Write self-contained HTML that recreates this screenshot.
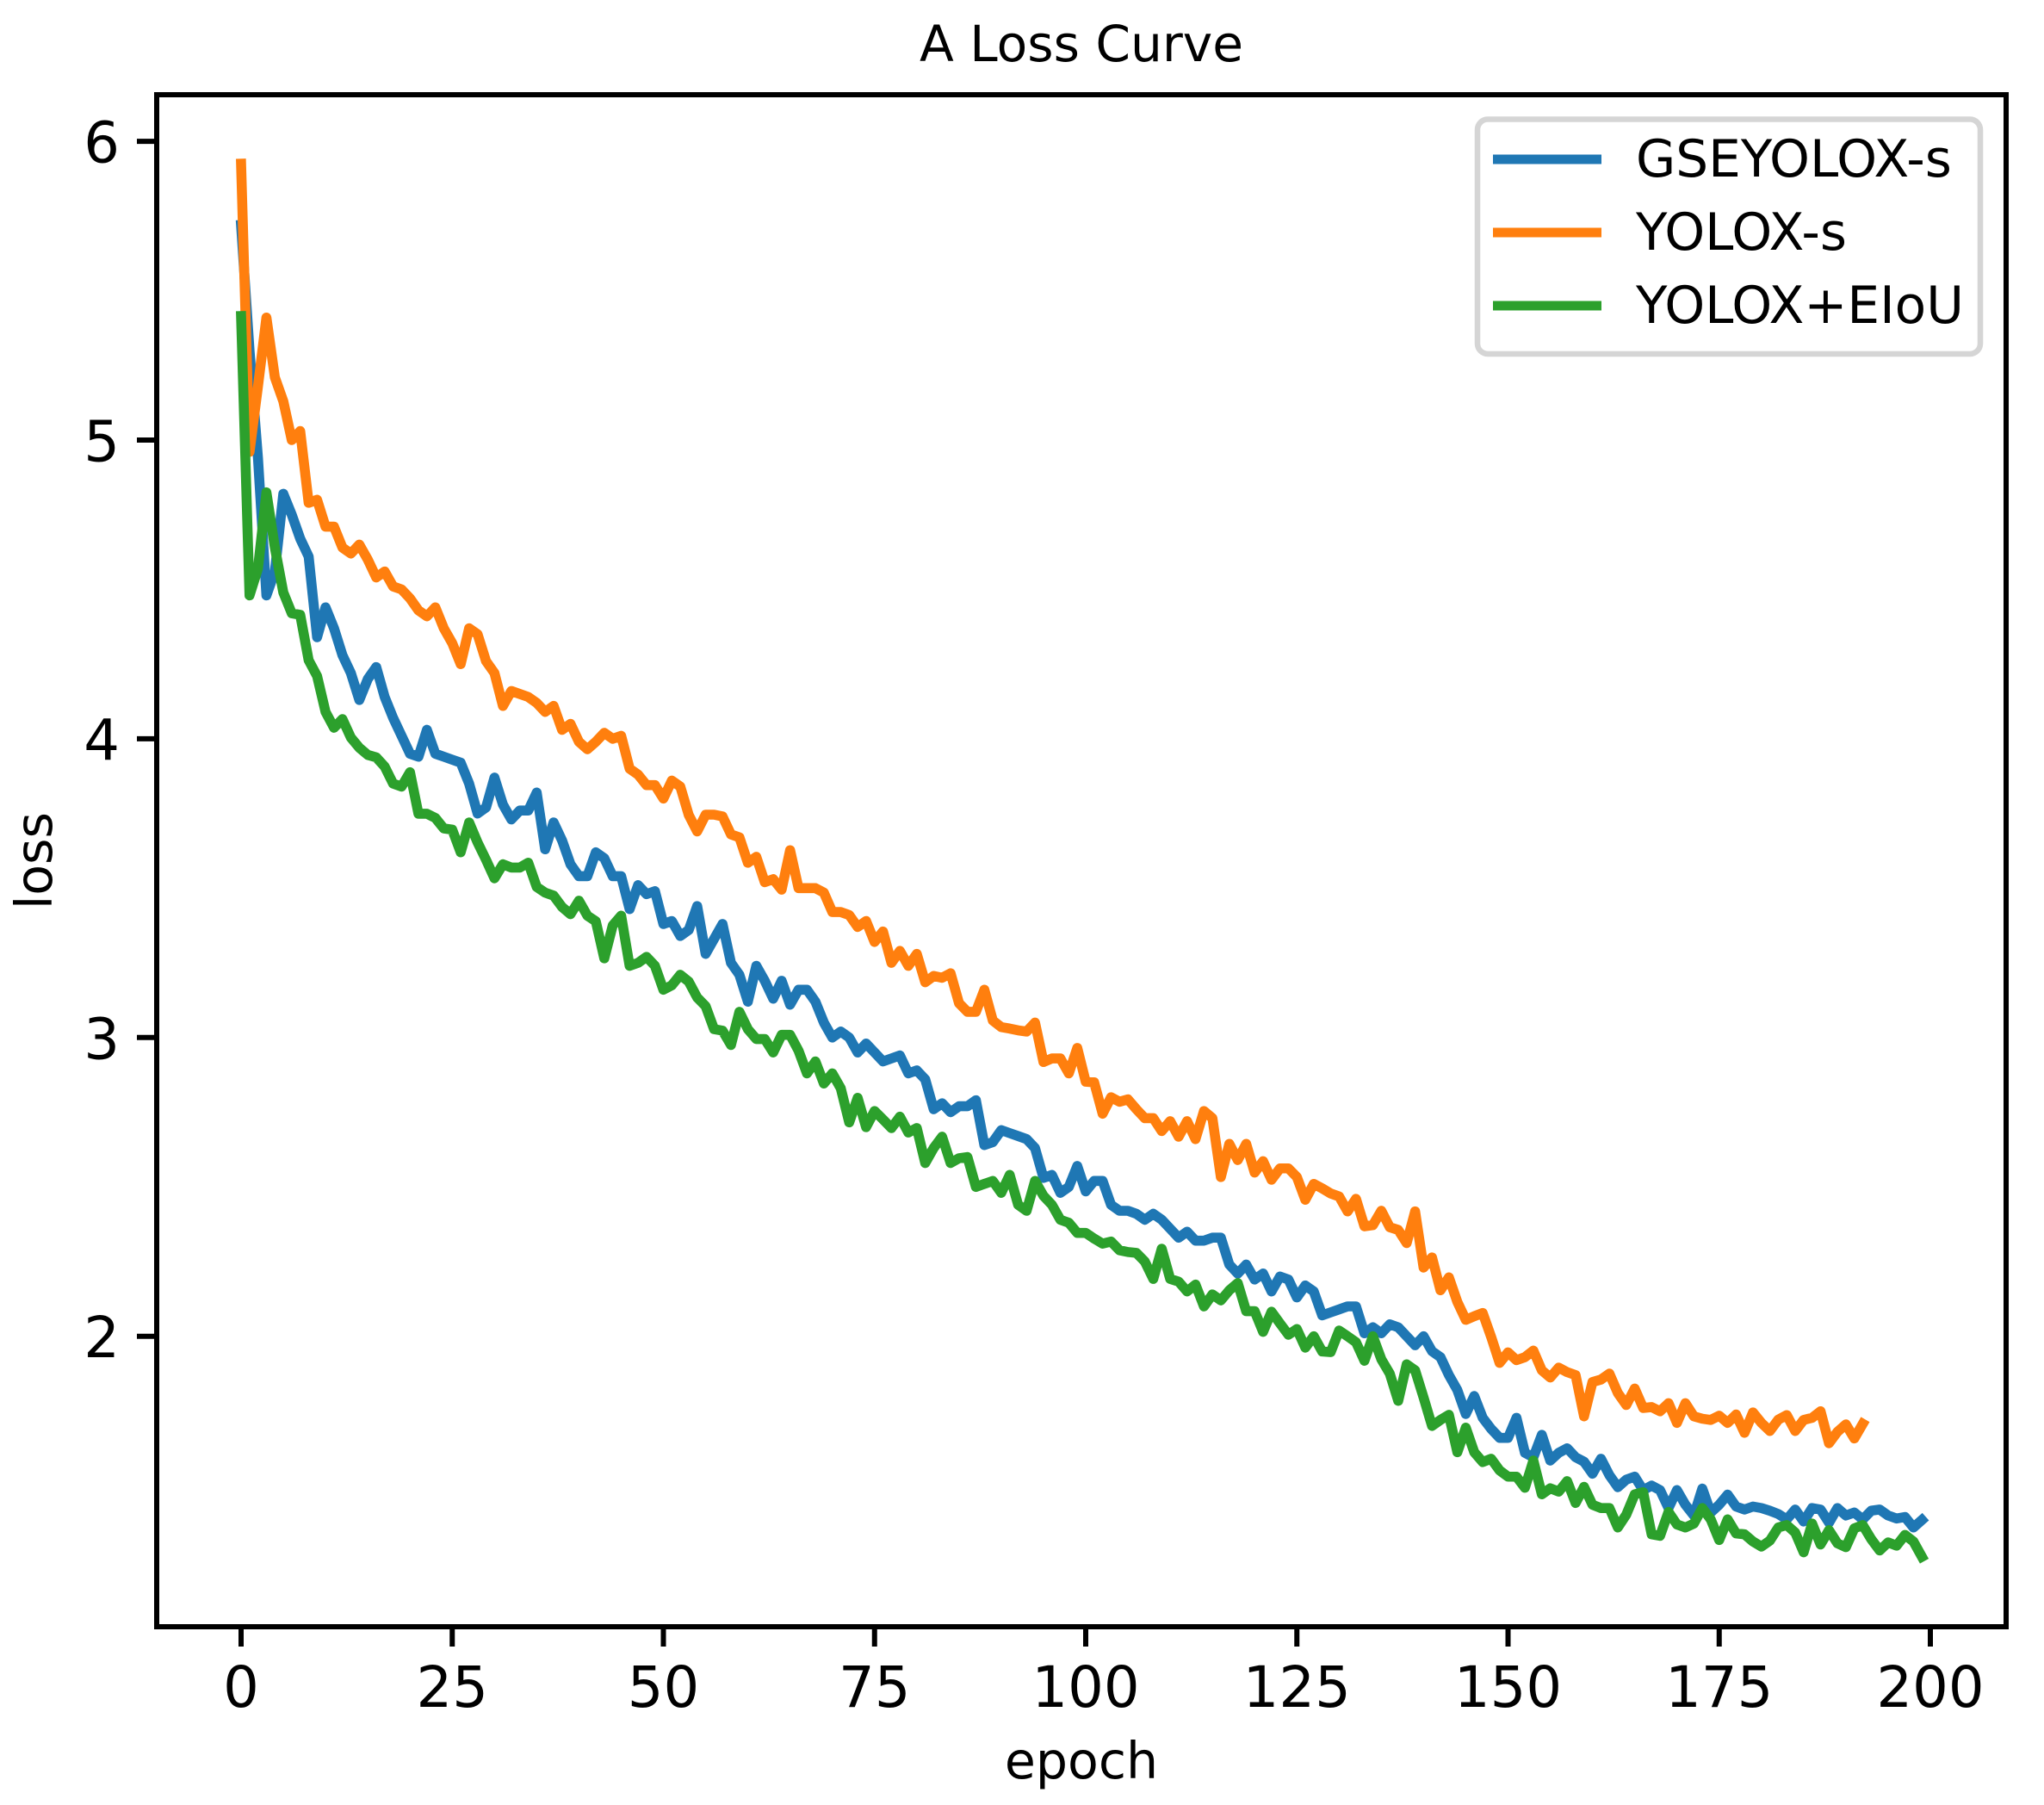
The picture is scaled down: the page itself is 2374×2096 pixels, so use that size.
<!DOCTYPE html>
<html lang="en">
<head>
<meta charset="utf-8">
<title>A Loss Curve</title>
<style>
html,body{margin:0;padding:0;background:#fff;}
body{width:2374px;height:2096px;overflow:hidden;}
svg{display:block;}
text{font-family:"DejaVu Sans","Liberation Sans",sans-serif;fill:#000;}
</style>
</head>
<body>
<svg id="chart" xmlns="http://www.w3.org/2000/svg" width="2374" height="2096" viewBox="0 0 2374 2096">
<rect x="0" y="0" width="2374" height="2096" fill="#ffffff"/>
<text x="1256" y="71" font-size="58.2" text-anchor="middle">A Loss Curve</text>
<text x="1256" y="2065" font-size="58.5" text-anchor="middle">epoch</text>
<text x="0" y="0" font-size="58.5" text-anchor="middle" transform="translate(60 999.5) rotate(-90)">loss</text>
<g id="series-layer"></g>
<g id="axes-layer"></g>
<g id="legend">
<rect x="1716" y="138.5" width="584" height="272.5" rx="12" ry="12" fill="#ffffff" stroke="#d5d5d5" stroke-width="6.5"/>
<line x1="1734" y1="185" x2="1860" y2="185" stroke="#1f77b4" stroke-width="11"/>
<text x="1900" y="205" font-size="59.7">GSEYOLOX-s</text>
<line x1="1734" y1="270" x2="1860" y2="270" stroke="#ff7f0e" stroke-width="11"/>
<text x="1900" y="290" font-size="59.7">YOLOX-s</text>
<line x1="1734" y1="355" x2="1860" y2="355" stroke="#2ca02c" stroke-width="11"/>
<text x="1900" y="375" font-size="59.7">YOLOX+EIoU</text>
</g>
</svg>
<script>
const xTicks = [0, 25, 50, 75, 100, 125, 150, 175, 200];
const yTicks = [2, 3, 4, 5, 6];

const gseyoloxLoss = [
5.72,5.30,4.94,4.48,4.56,4.82,4.75,4.67,4.61,4.34,
4.44,4.37,4.28,4.22,4.13,4.20,4.24,4.14,4.07,4.01,
3.95,3.94,4.03,3.95,3.94,3.93,3.92,3.85,3.75,3.77,
3.87,3.78,3.73,3.76,3.76,3.82,3.63,3.72,3.66,3.58,
3.54,3.54,3.62,3.60,3.54,3.54,3.43,3.51,3.48,3.49,
3.38,3.39,3.34,3.36,3.44,3.28,3.33,3.38,3.25,3.21,
3.12,3.24,3.19,3.13,3.19,3.11,3.16,3.16,3.12,3.05,
3.00,3.02,3.00,2.95,2.98,2.95,2.92,2.93,2.94,2.88,
2.89,2.86,2.76,2.78,2.75,2.77,2.77,2.79,2.64,2.65,
2.69,2.68,2.67,2.66,2.63,2.53,2.54,2.48,2.50,2.57,
2.485,2.52,2.52,2.44,2.42,2.42,2.41,2.39,2.41,2.39,
2.36,2.33,2.35,2.32,2.32,2.33,2.33,2.24,2.21,2.24,
2.19,2.21,2.15,2.20,2.19,2.13,2.17,2.15,2.07,2.08,
2.09,2.10,2.10,2.01,2.03,2.01,2.04,2.03,2.00,1.97,
2.00,1.95,1.93,1.87,1.82,1.74,1.80,1.727,1.69,1.66,
1.66,1.727,1.61,1.595,1.67,1.584,1.61,1.625,1.595,1.58,
1.54,1.59,1.535,1.495,1.52,1.53,1.485,1.50,1.485,1.425,
1.485,1.436,1.40,1.49,1.41,1.436,1.47,1.43,1.42,1.43,
1.425,1.416,1.405,1.387,1.42,1.38,1.425,1.42,1.376,1.425,
1.40,1.41,1.387,1.416,1.42,1.40,1.39,1.395,1.36,1.385
];

const yoloxLoss = [
5.925,4.96,5.18,5.41,5.21,5.13,5.00,5.03,4.79,4.80,
4.71,4.71,4.64,4.62,4.65,4.60,4.54,4.56,4.51,4.50,
4.47,4.43,4.41,4.44,4.37,4.32,4.25,4.37,4.35,4.26,
4.22,4.11,4.16,4.15,4.14,4.12,4.09,4.11,4.03,4.05,
3.99,3.965,3.99,4.02,4.00,4.01,3.90,3.88,3.845,3.845,
3.80,3.86,3.84,3.745,3.69,3.746,3.746,3.74,3.68,3.67,
3.585,3.605,3.52,3.53,3.495,3.627,3.50,3.50,3.50,3.485,
3.42,3.42,3.41,3.37,3.39,3.32,3.355,3.25,3.29,3.24,
3.28,3.185,3.206,3.20,3.215,3.115,3.086,3.086,3.16,3.057,
3.035,3.03,3.024,3.02,3.05,2.918,2.93,2.93,2.88,2.965,
2.852,2.85,2.745,2.80,2.785,2.793,2.76,2.73,2.73,2.687,
2.72,2.668,2.72,2.66,2.754,2.73,2.533,2.644,2.59,2.644,
2.548,2.586,2.524,2.562,2.562,2.533,2.457,2.51,2.495,2.478,
2.468,2.418,2.46,2.368,2.372,2.42,2.365,2.356,2.312,2.418,
2.23,2.264,2.154,2.197,2.115,2.055,2.067,2.078,1.998,1.911,
1.946,1.92,1.93,1.952,1.886,1.862,1.895,1.88,1.87,1.732,
1.847,1.855,1.875,1.81,1.77,1.825,1.76,1.763,1.749,1.776,
1.71,1.776,1.732,1.724,1.72,1.734,1.71,1.738,1.677,1.745,
1.71,1.683,1.721,1.736,1.683,1.72,1.727,1.749,1.642,1.68,
1.705,1.658,1.707
];

const eiouLoss = [
5.415,4.48,4.57,4.825,4.64,4.49,4.42,4.415,4.263,4.21,
4.09,4.037,4.066,4.004,3.97,3.946,3.938,3.907,3.85,3.84,
3.888,3.749,3.749,3.735,3.70,3.696,3.62,3.72,3.653,3.595,
3.533,3.58,3.569,3.569,3.585,3.504,3.485,3.475,3.437,3.413,
3.458,3.408,3.389,3.265,3.375,3.408,3.24,3.25,3.27,3.24,
3.16,3.175,3.21,3.187,3.134,3.105,3.028,3.023,2.975,3.086,
3.028,2.995,2.995,2.95,3.009,3.009,2.956,2.88,2.92,2.846,
2.88,2.83,2.716,2.798,2.70,2.754,2.726,2.697,2.735,2.682,
2.697,2.58,2.63,2.668,2.58,2.596,2.60,2.50,2.51,2.52,
2.48,2.54,2.44,2.42,2.52,2.47,2.44,2.39,2.38,2.346,
2.346,2.327,2.31,2.317,2.288,2.282,2.279,2.25,2.192,2.293,
2.192,2.183,2.15,2.173,2.10,2.14,2.12,2.154,2.178,2.084,
2.084,2.015,2.082,2.043,2.005,2.024,1.962,2.00,1.949,1.947,
2.019,2.00,1.98,1.918,2.00,1.923,1.875,1.784,1.906,1.886,
1.795,1.70,1.72,1.737,1.612,1.694,1.612,1.579,1.59,1.551,
1.53,1.53,1.493,1.584,1.471,1.491,1.48,1.515,1.442,1.496,
1.436,1.425,1.425,1.36,1.403,1.471,1.478,1.337,1.332,1.412,
1.37,1.36,1.373,1.425,1.387,1.318,1.387,1.34,1.337,1.313,
1.296,1.316,1.36,1.368,1.343,1.277,1.373,1.303,1.351,1.307,
1.294,1.357,1.368,1.321,1.283,1.31,1.299,1.335,1.313,1.262
];

const SVG_NS = 'http://www.w3.org/2000/svg';
const PLOT_LEFT = 182;
const PLOT_RIGHT = 2330;
const PLOT_TOP = 110;
const PLOT_BOTTOM = 1889;

function xScale(epoch) {
  return 280 + 9.81 * epoch;
}

function yScale(loss) {
  return 1551.7 - 346.9 * (loss - 2);
}

function drawSeries(values, color) {
  const line = document.createElementNS(SVG_NS, 'polyline');
  const points = values.map(function (v, i) {
    return xScale(i).toFixed(2) + ',' + yScale(v).toFixed(2);
  }).join(' ');
  line.setAttribute('points', points);
  line.setAttribute('fill', 'none');
  line.setAttribute('stroke', color);
  line.setAttribute('stroke-width', '11.6');
  line.setAttribute('stroke-linecap', 'square');
  line.setAttribute('stroke-linejoin', 'round');
  return line;
}

const seriesLayer = document.getElementById('series-layer');
const axesLayer = document.getElementById('axes-layer');

const blueLine = drawSeries(gseyoloxLoss, '#1f77b4');


seriesLayer.appendChild(blueLine);

const orangeLine = drawSeries(yoloxLoss, '#ff7f0e');


seriesLayer.appendChild(orangeLine);

const greenLine = drawSeries(eiouLoss, '#2ca02c');


seriesLayer.appendChild(greenLine);

xTicks.forEach(function (t) {
  const tick = document.createElementNS(SVG_NS, 'line');
  
  
  tick.setAttribute('x1', xScale(t));
  tick.setAttribute('x2', xScale(t));
  tick.setAttribute('y1', PLOT_BOTTOM);
  tick.setAttribute('y2', PLOT_BOTTOM + 23);
  tick.setAttribute('stroke', '#000');
  tick.setAttribute('stroke-width', '6');
  axesLayer.appendChild(tick);
  const label = document.createElementNS(SVG_NS, 'text');
  
  
  label.setAttribute('x', xScale(t));
  label.setAttribute('y', 1982);
  label.setAttribute('font-size', '65.6');
  label.setAttribute('text-anchor', 'middle');
  label.textContent = String(t);
  axesLayer.appendChild(label);
});

yTicks.forEach(function (t) {
  const tick = document.createElementNS(SVG_NS, 'line');
  
  
  tick.setAttribute('x1', PLOT_LEFT - 23);
  tick.setAttribute('x2', PLOT_LEFT);
  tick.setAttribute('y1', yScale(t));
  tick.setAttribute('y2', yScale(t));
  tick.setAttribute('stroke', '#000');
  tick.setAttribute('stroke-width', '6');
  axesLayer.appendChild(tick);
  const label = document.createElementNS(SVG_NS, 'text');
  
  
  label.setAttribute('x', 139);
  label.setAttribute('y', yScale(t) + 24.5);
  label.setAttribute('font-size', '65.6');
  label.setAttribute('text-anchor', 'end');
  label.textContent = String(t);
  axesLayer.appendChild(label);
});

const frame = document.createElementNS(SVG_NS, 'rect');


frame.setAttribute('x', PLOT_LEFT);
frame.setAttribute('y', PLOT_TOP);
frame.setAttribute('width', PLOT_RIGHT - PLOT_LEFT);
frame.setAttribute('height', PLOT_BOTTOM - PLOT_TOP);
frame.setAttribute('fill', 'none');
frame.setAttribute('stroke', '#000');
frame.setAttribute('stroke-width', '6');
axesLayer.appendChild(frame);
</script>
</body>
</html>
